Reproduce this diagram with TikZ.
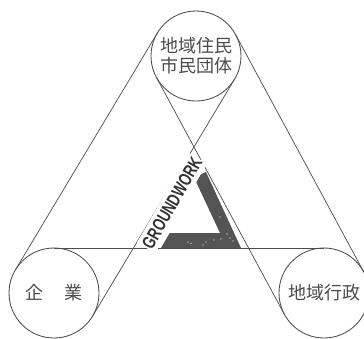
\documentclass[tikz,border=0pt]{standalone}
\usepackage{fontspec}
\setmainfont{Liberation Sans}
\newfontfamily\cjk{Noto Sans CJK JP}
\usetikzlibrary{calc}
\definecolor{ink}{gray}{0.3}
\definecolor{bandgray}{gray}{0.33}
\begin{document}
\begin{tikzpicture}[x=1pt,y=-1pt,
  ring/.style={circle,draw=ink,line width=0.85pt,minimum size=90pt,inner sep=0pt,
    font=\cjk\fontsize{18}{20}\selectfont,text=ink,align=center},
  belt/.style={draw=ink,line width=0.7pt},
  band/.style={fill=bandgray},
  speck/.style={fill=white},
  gwlabel/.style={rotate=60,fill=white,inner xsep=1pt,inner ysep=4pt,
    font=\fontsize{18.5}{18.5}\selectfont,text=black!80}]
\useasboundingbox (0,0) rectangle (364,338);
\fill[white] (0,0) rectangle (364,338);
% circles
\node[ring] (A) at (196,56) {地域住民\\市民団体};
\node[ring] (B) at (54,293) {企\hspace{21pt}業};
\node[ring] (C) at (324,293) {地域行政};
% tangent points
\coordinate (AB1) at ($(A.center)!45pt!90:(B.center)$);
\coordinate (BA1) at ($(B.center)!45pt!-90:(A.center)$);
\coordinate (AB2) at ($(A.center)!45pt!-90:(B.center)$);
\coordinate (BA2) at ($(B.center)!45pt!90:(A.center)$);
\coordinate (AC1) at ($(A.center)!45pt!90:(C.center)$);
\coordinate (CA1) at ($(C.center)!45pt!-90:(A.center)$);
\coordinate (AC2) at ($(A.center)!45pt!-90:(C.center)$);
\coordinate (CA2) at ($(C.center)!45pt!90:(A.center)$);
\coordinate (BC1) at ($(B.center)!45pt!90:(C.center)$);
\coordinate (CB1) at ($(C.center)!45pt!-90:(B.center)$);
% belts
\draw[belt] (AB1) -- (BA1);
\draw[belt] (AB2) -- (BA2);
\draw[belt] (AC1) -- (CA1);
\draw[belt] (AC2) -- (CA2);
\draw[belt] (BC1) -- (CB1);
% dark band of the triangle
\fill[band] (161,248) -- (241,248) -- (206,172) -- (194,177.4) -- (220,233) -- (169.7,233) -- cycle;
\foreach \p in {(188,242),(191,243.5),(206,242),(214,240),(221,239),(227,234),(230,238),(233,241),(220,217),(203,245)}
  \fill[speck] \p circle (0.6);
% label
\node[gwlabel] (gw) at (172,203) {\scalebox{0.72}[1]{\bfseries GROUNDWORK}};
\end{tikzpicture}
\end{document}
